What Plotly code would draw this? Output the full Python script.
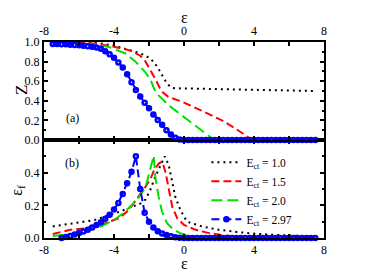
import plotly.graph_objects as go

# ---------------- data ----------------
labels = ["E<sub>ct</sub> = 1.0", "E<sub>ct</sub> = 1.5", "E<sub>ct</sub> = 2.0", "E<sub>ct</sub> = 2.97"]

# panel (a): Z vs eps
z1_eps = [-7.5, -6.0, -5.0, -4.0, -3.5, -3.0, -2.5, -2.0, -1.75, -1.5, -1.25, -1.0, -0.75, -0.5, 0.0, 2.0, 4.0, 6.0, 7.5]
z1_val = [1.0, 0.997, 0.99, 0.965, 0.935, 0.91, 0.885, 0.84, 0.80, 0.74, 0.66, 0.585, 0.535, 0.528, 0.526, 0.52, 0.512, 0.505, 0.50]

z15_eps = [-7.5, -6.0, -5.0, -4.0, -3.0, -2.5, -2.2, -1.9, -1.6, -1.4, -1.2, -0.9, -0.1, 1.0, 2.2, 3.0, 3.6, 3.9, 7.5]
z15_val = [1.0, 0.995, 0.983, 0.952, 0.91, 0.86, 0.80, 0.71, 0.61, 0.535, 0.485, 0.44, 0.39, 0.30, 0.198, 0.11, 0.035, 0.0, 0.0]

z2_eps = [-7.5, -6.0, -5.0, -4.3, -3.3, -2.75, -2.2, -1.9, -1.7, -1.45, -0.85, -0.1, 0.65, 1.25, 1.65, 1.8, 7.5]
z2_val = [1.0, 0.99, 0.97, 0.95, 0.88, 0.795, 0.69, 0.61, 0.52, 0.455, 0.35, 0.25, 0.147, 0.068, 0.01, 0.0, 0.0]

z297_eps = [-7.5, -7.25, -7.0, -6.75, -6.5, -6.25, -6.0, -5.75, -5.5, -5.25, -5.0, -4.75, -4.5, -4.25,
            -4.0, -3.75, -3.5, -3.25, -3.0, -2.75, -2.5, -2.25, -2.0, -1.75, -1.5, -1.25, -1.0, -0.75,
            -0.5, -0.25, 0.0, 0.25, 0.5, 0.75, 1.0, 1.25, 1.5, 1.75, 2.0, 2.25, 2.5, 2.75, 3.0, 3.25,
            3.5, 3.75, 4.0, 4.25, 4.5, 4.75, 5.0, 5.25, 5.5, 5.75, 6.0, 6.25, 6.5, 6.75, 7.0, 7.25, 7.5]
z297_val = [0.98, 0.98, 0.978, 0.976, 0.973, 0.97, 0.966, 0.962, 0.957, 0.951, 0.943, 0.93, 0.905, 0.875,
            0.84, 0.79, 0.74, 0.67, 0.59, 0.51, 0.445, 0.38, 0.325, 0.26, 0.205, 0.155, 0.10, 0.055,
            0.022, 0.005, 0.0, 0.0, 0.0, 0.0, 0.0, 0.0, 0.0, 0.0, 0.0, 0.0, 0.0, 0.0, 0.0, 0.0,
            0.0, 0.0, 0.0, 0.0, 0.0, 0.0, 0.0, 0.0, 0.0, 0.0, 0.0, 0.0, 0.0, 0.0, 0.0, 0.0, 0.0]

# panel (b): eps_f vs eps
f1_eps = [-7.5, -6.6, -5.8, -5.1, -4.3, -3.7, -3.0, -2.5, -2.2, -1.93, -1.64, -1.35, -1.1, -0.87, -0.69, -0.5, -0.21, 0.17, 1.05, 2.0, 3.0, 4.1, 5.8, 7.5]
f1_val = [0.071, 0.085, 0.095, 0.11, 0.14, 0.16, 0.19, 0.21, 0.235, 0.294, 0.375, 0.446, 0.50, 0.446, 0.345, 0.253, 0.172, 0.10, 0.07, 0.05, 0.037, 0.026, 0.016, 0.01]

f15_eps = [-7.5, -6.5, -5.6, -4.8, -4.0, -3.7, -3.14, -2.57, -2.19, -1.9, -1.71, -1.43, -1.24, -1.05, -0.86, -0.67, -0.38, 0.0, 0.67, 1.43, 2.19, 2.95, 4.1, 7.5]
f15_val = [0.025, 0.05, 0.06, 0.08, 0.11, 0.122, 0.173, 0.254, 0.315, 0.365, 0.416, 0.457, 0.467, 0.40, 0.29, 0.19, 0.12, 0.08, 0.05, 0.03, 0.018, 0.01, 0.004, 0.0]

f2_eps = [-7.5, -6.5, -5.5, -4.75, -4.0, -3.5, -3.0, -2.6, -2.2, -1.93, -1.73, -1.64, -1.45, -1.26, -0.97, -0.59, -0.21, 0.3, 1.0, 2.0, 7.5]
f2_val = [0.012, 0.025, 0.045, 0.07, 0.11, 0.15, 0.20, 0.245, 0.31, 0.415, 0.505, 0.375, 0.253, 0.162, 0.091, 0.05, 0.03, 0.012, 0.004, 0.0, 0.0]

f297_eps = [-7.0, -6.75, -6.5, -6.25, -6.0, -5.75, -5.5, -5.25, -5.0, -4.75, -4.5, -4.25,
            -4.0, -3.75, -3.5, -3.25, -3.0, -2.75, -2.5, -2.25, -2.0, -1.75, -1.5, -1.25, -1.0, -0.75,
            -0.5, -0.25, 0.0, 0.25, 0.5, 0.75, 1.0, 1.25, 1.5, 1.75, 2.0, 2.25, 2.5, 2.75, 3.0, 3.25,
            3.5, 3.75, 4.0, 4.25, 4.5, 4.75, 5.0, 5.25, 5.5, 5.75, 6.0, 6.25, 6.5, 6.75, 7.0, 7.25, 7.5]
f297_val = [0.0, 0.006, 0.013, 0.021, 0.03, 0.04, 0.051, 0.064, 0.079, 0.097, 0.118, 0.143,
            0.175, 0.215, 0.27, 0.335, 0.405, 0.50, 0.30, 0.155, 0.10, 0.065, 0.042, 0.028, 0.018, 0.01,
            0.005, 0.002, 0.0, 0.0, 0.0, 0.0, 0.0, 0.0, 0.0, 0.0, 0.0, 0.0, 0.0, 0.0, 0.0, 0.0,
            0.0, 0.0, 0.0, 0.0, 0.0, 0.0, 0.0, 0.0, 0.0, 0.0, 0.0, 0.0, 0.0, 0.0, 0.0, 0.0, 0.0]

x_tickvals = [-8, -6, -4, -2, 0, 2, 4, 6, 8]
x_ticktext = ["-8", "", "-4", "", "0", "", "4", "", "8"]

# ---------------- styles ----------------
FONT = "Liberation Serif"
styles = [
    dict(color="#000000", width=2, dash="2px,4px"),
    dict(color="#ff0000", width=2, dash="8px,4px"),
    dict(color="#00e000", width=2, dash="11px,5px"),
    dict(color="#0000ff", width=2, dash="8px,4px"),
]
blue_marker = dict(symbol="circle-open", size=4, color="#0000ff",
                   line=dict(width=2.5, color="#0000ff"))

fig = go.Figure()

top = [(z1_eps, z1_val), (z15_eps, z15_val), (z2_eps, z2_val), (z297_eps, z297_val)]
bot = [(f1_eps, f1_val), (f15_eps, f15_val), (f2_eps, f2_val), (f297_eps, f297_val)]

for i, (xs, ys) in enumerate(top):
    kw = dict(mode="lines")
    if i == 3:
        kw = dict(mode="lines+markers", marker=blue_marker)
    fig.add_trace(go.Scatter(x=xs, y=ys, xaxis="x2", yaxis="y2", line=styles[i],
                             showlegend=False, cliponaxis=False, **kw))

for i, (xs, ys) in enumerate(bot):
    kw = dict(mode="lines")
    if i == 3:
        kw = dict(mode="lines+markers", marker=blue_marker)
    fig.add_trace(go.Scatter(x=xs, y=ys, xaxis="x", yaxis="y", line=styles[i],
                             name=labels[i], cliponaxis=False, **kw))

axis_common = dict(showline=True, linewidth=2, linecolor="black", mirror="allticks",
                   ticks="inside", ticklen=4, tickwidth=1.5, tickcolor="black",
                   showgrid=False, zeroline=False, automargin=False,
                   tickfont=dict(family=FONT, size=12, color="black"))

title_font = dict(family=FONT, size=16, color="black")
ctr = dict(xref="paper", yref="paper", showarrow=False, xanchor="center", yanchor="middle")

fig.update_layout(
    width=380, height=265,
    margin=dict(l=36, r=64, t=34, b=35),
    paper_bgcolor="white", plot_bgcolor="white",
    font=dict(family=FONT, size=12, color="black"),
    xaxis=dict(domain=[0, 1], anchor="y", range=[-8, 8], tickmode="array",
               tickvals=x_tickvals, ticktext=x_ticktext, **axis_common),
    xaxis2=dict(domain=[0, 1], anchor="y2", matches="x", range=[-8, 8], side="top",
                tickmode="array", tickvals=x_tickvals, ticktext=x_ticktext,
                **axis_common),
    yaxis=dict(domain=[0, 0.5], anchor="x", range=[0, 0.6], tickmode="array",
               tickvals=[0, 0.2, 0.4], ticktext=["0.0", "0.2", "0.4"],
               minor=dict(ticks="inside", dtick=0.1, tick0=0, ticklen=2, tickcolor="black"),
               **axis_common),
    yaxis2=dict(domain=[0.5, 1], anchor="x2", range=[0, 1.0], tickmode="array",
                tickvals=[0, 0.2, 0.4, 0.6, 0.8, 1.0],
                ticktext=["0.0", "0.2", "0.4", "0.6", "0.8", "1.0"],
                minor=dict(ticks="inside", dtick=0.1, tick0=0, ticklen=2, tickcolor="black"),
                **axis_common),
    legend=dict(x=0.58, y=0.46, xanchor="left", yanchor="top", bgcolor="rgba(0,0,0,0)",
                font=dict(family=FONT, size=11.5), itemwidth=30, tracegroupgap=0,
                borderwidth=0),
    annotations=[
        dict(text="ε", x=0.5, y=1.125, font=title_font, **ctr),
        dict(text="ε", x=0.5, y=-0.132, font=title_font, **ctr),
        dict(text="Z", x=-0.082, y=0.755, textangle=-90,
             font=dict(family=FONT, size=17, color="black"), **ctr),
        dict(text="ε<sub>f</sub>", x=-0.094, y=0.245, textangle=-90, font=title_font, **ctr),
        dict(text="(a)", x=0.1, y=0.612, font=dict(family=FONT, size=12), **ctr),
        dict(text="(b)", x=0.1, y=0.383, font=dict(family=FONT, size=12), **ctr),
    ],
)

fig.write_html("out.html")
